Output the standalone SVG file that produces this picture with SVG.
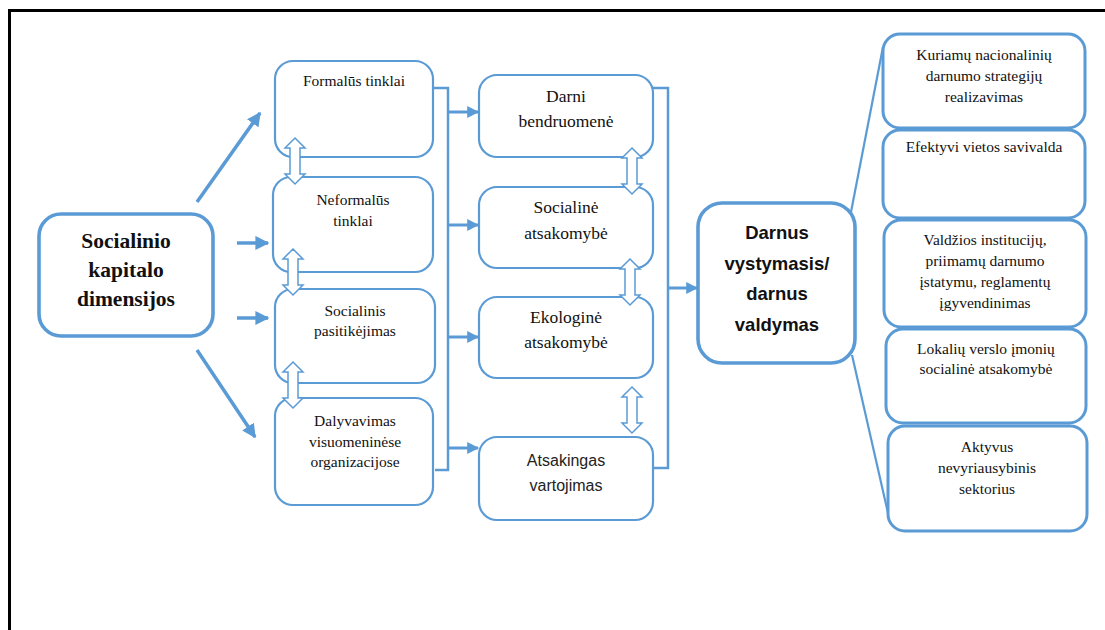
<svg xmlns="http://www.w3.org/2000/svg" width="1105" height="630" viewBox="0 0 1105 630">
<style>
.bg{fill:#fff}
.frame{fill:none;stroke:#000;stroke-width:3}
.box{fill:#fff;stroke:#5B9BD5;stroke-width:2.2}
.box3{fill:#fff;stroke:#5B9BD5;stroke-width:3}
.big{fill:#fff;stroke:#5B9BD5;stroke-width:3.6}
.ser{font-family:"Liberation Serif","Times New Roman",serif;fill:#111;text-anchor:middle}
.s16{font-size:15.5px}
.s17{font-size:17.5px}
.sb{font-family:"Liberation Serif","Times New Roman",serif;font-weight:bold;font-size:21.5px;fill:#111;text-anchor:middle}
.sans{font-family:"Liberation Sans",Arial,sans-serif;font-size:16px;fill:#222;text-anchor:middle}
.sansb{font-family:"Liberation Sans",Arial,sans-serif;font-weight:bold;font-size:18.5px;fill:#111;text-anchor:middle}
.arr{fill:none;stroke:#5B9BD5;stroke-width:3.5;marker-end:url(#ah)}
.arr2{fill:none;stroke:#5B9BD5;stroke-width:3;marker-end:url(#ah2)}
.ln{fill:none;stroke:#5B9BD5;stroke-width:2.5}
.thin{fill:none;stroke:#5B9BD5;stroke-width:2.2}
.hol{fill:#fff;stroke:#5B9BD5;stroke-width:1.5;stroke-linejoin:miter}
</style>
<defs>
<marker id="ah" viewBox="0 0 10 10" refX="9" refY="5" markerUnits="userSpaceOnUse" markerWidth="14" markerHeight="14" orient="auto"><path d="M0,0 L10,5 L0,10 z" fill="#5B9BD5"/></marker>
<marker id="ah2" viewBox="0 0 10 10" refX="9" refY="5" markerUnits="userSpaceOnUse" markerWidth="12" markerHeight="12" orient="auto"><path d="M0,0 L10,5 L0,10 z" fill="#5B9BD5"/></marker>
<polygon id="dbl" points="0,0 10,10 5,10 5,36 10,36 0,46 -10,36 -5,36 -5,10 -10,10"/>
</defs>
<rect class="bg" x="0" y="0" width="1105" height="630"/>
<path class="frame" d="M9.5,632 V10.5 H1106"/>

<g id="connectors">
<path class="arr" d="M197,202 L260,113"/>
<path class="arr" d="M237,243 L268,243"/>
<path class="arr" d="M237,318 L268,318"/>
<path class="arr" d="M197,350 L255,437"/>
<path class="ln" d="M433,88 H448 V470 H435"/>
<path class="arr2" d="M448,112 H478"/>
<path class="arr2" d="M448,225 H478"/>
<path class="arr2" d="M448,337 H478"/>
<path class="arr2" d="M448,448 H478"/>
<path class="ln" d="M653,88 H668 V468 H653"/>
<path class="arr2" d="M668,288 H697"/>
<path class="thin" d="M851,212 L883,47"/>
<path class="thin" d="M852,355 L888,513"/>
</g>

<g id="n-socialinio">
<rect class="big" x="39" y="214" width="174" height="122" rx="22"/>
<text class="sb" x="126" y="248">Socialinio</text>
<text class="sb" x="126" y="277">kapitalo</text>
<text class="sb" x="126" y="306">dimensijos</text>
</g>

<g id="n-formalus">
<rect class="box" x="275" y="61" width="158" height="96" rx="18"/>
<text class="ser s16" x="354" y="86">Formalūs tinklai</text>
</g>
<g id="n-neformalus">
<rect class="box" x="273" y="177" width="160" height="95" rx="18"/>
<text class="ser s16" x="353" y="205">Neformalūs</text>
<text class="ser s16" x="353" y="226">tinklai</text>
</g>
<g id="n-pasitikejimas">
<rect class="box" x="275" y="289" width="160" height="94" rx="18"/>
<text class="ser s16" x="355" y="316">Socialinis</text>
<text class="ser s16" x="355" y="336">pasitikėjimas</text>
</g>
<g id="n-dalyvavimas">
<rect class="box" x="275" y="398" width="158" height="107" rx="18"/>
<text class="ser s16" x="355" y="426">Dalyvavimas</text>
<text class="ser s16" x="355" y="447">visuomeninėse</text>
<text class="ser s16" x="355" y="467">organizacijose</text>
</g>

<g id="n-darni">
<rect class="box" x="479" y="75" width="174" height="82" rx="18"/>
<text class="ser s17" x="566" y="102">Darni</text>
<text class="ser s17" x="566" y="127">bendruomenė</text>
</g>
<g id="n-socialine">
<rect class="box" x="479" y="187" width="174" height="81" rx="18"/>
<text class="ser s17" x="566" y="213">Socialinė</text>
<text class="ser s17" x="566" y="239">atsakomybė</text>
</g>
<g id="n-ekologine">
<rect class="box" x="479" y="297" width="174" height="81" rx="18"/>
<text class="ser s17" x="566" y="323">Ekologinė</text>
<text class="ser s17" x="566" y="348">atsakomybė</text>
</g>
<g id="n-vartojimas">
<rect class="box" x="479" y="437" width="174" height="83" rx="18"/>
<text class="sans" x="566" y="466">Atsakingas</text>
<text class="sans" x="566" y="491">vartojimas</text>
</g>

<g id="n-darnus">
<rect class="big" x="698" y="203" width="157" height="160" rx="24"/>
<text class="sansb" x="777" y="239">Darnus</text>
<text class="sansb" x="777" y="270">vystymasis/</text>
<text class="sansb" x="777" y="300">darnus</text>
<text class="sansb" x="777" y="331">valdymas</text>
</g>

<g id="n-kuriamu">
<rect class="box3" x="883" y="34" width="202" height="94" rx="17"/>
<text class="ser s16" x="984" y="60">Kuriamų nacionalinių</text>
<text class="ser s16" x="984" y="81">darnumo strategijų</text>
<text class="ser s16" x="984" y="102">realizavimas</text>
</g>
<g id="n-efektyvi">
<rect class="box3" x="883" y="130" width="202" height="88" rx="17"/>
<text class="ser s16" x="984" y="152">Efektyvi vietos savivalda</text>
</g>
<g id="n-valdzios">
<rect class="box3" x="884" y="220" width="202" height="107" rx="17"/>
<text class="ser s16" x="985" y="245">Valdžios institucijų,</text>
<text class="ser s16" x="985" y="266">priimamų darnumo</text>
<text class="ser s16" x="985" y="287">įstatymu, reglamentų</text>
<text class="ser s16" x="985" y="308">įgyvendinimas</text>
</g>
<g id="n-lokaliu">
<rect class="box3" x="886" y="329" width="200" height="94" rx="17"/>
<text class="ser s16" x="986" y="354">Lokalių verslo įmonių</text>
<text class="ser s16" x="986" y="374">socialinė atsakomybė</text>
</g>
<g id="n-aktyvus">
<rect class="box3" x="888" y="426" width="199" height="105" rx="17"/>
<text class="ser s16" x="987" y="452">Aktyvus</text>
<text class="ser s16" x="987" y="473">nevyriausybinis</text>
<text class="ser s16" x="987" y="494">sektorius</text>
</g>

<g id="hollow-arrows">
<use href="#dbl" class="hol" transform="translate(295,138)"/>
<use href="#dbl" class="hol" transform="translate(293,249)"/>
<use href="#dbl" class="hol" transform="translate(293,362)"/>
<use href="#dbl" class="hol" transform="translate(632,148)"/>
<use href="#dbl" class="hol" transform="translate(630,259)"/>
<use href="#dbl" class="hol" transform="translate(632,387)"/>
</g>
</svg>
